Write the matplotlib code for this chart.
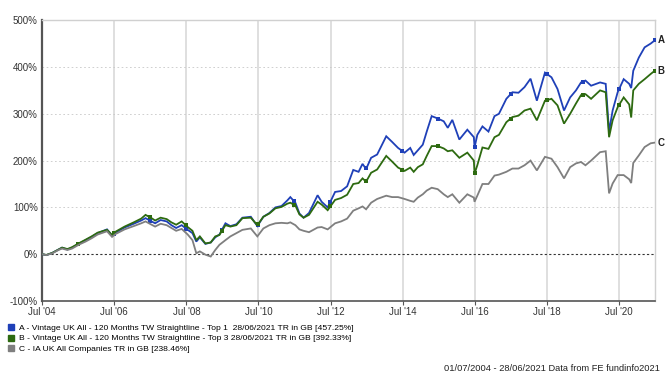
import numpy as np
import pandas as pd
import matplotlib
matplotlib.use('Agg')
import matplotlib.pyplot as plt
import matplotlib.dates as mdates
from matplotlib.lines import Line2D

plt.rcParams['font.family'] = ['Liberation Sans', 'DejaVu Sans']

# ---------------------------------------------------------------
# Cumulative total return (%)
# ---------------------------------------------------------------
dates = [
    '2004-07-01', '2004-08-15', '2004-10-15', '2004-12-15', '2005-01-20', '2005-03-15',
    '2005-05-01', '2005-07-15', '2005-09-15', '2005-11-15', '2006-01-15', '2006-04-20',
    '2006-06-10', '2006-07-15', '2006-10-15', '2007-01-15', '2007-04-01', '2007-05-15',
    '2007-07-15', '2007-08-20', '2007-10-15', '2007-12-15', '2008-02-01', '2008-03-20',
    '2008-05-15', '2008-07-15', '2008-09-01', '2008-10-10', '2008-11-15', '2009-01-10',
    '2009-03-05', '2009-04-20', '2009-06-01', '2009-08-01', '2009-09-20', '2009-11-20',
    '2010-01-20', '2010-04-15', '2010-06-20', '2010-08-20', '2010-10-20', '2010-12-20',
    '2011-02-20', '2011-04-20', '2011-05-20', '2011-07-10', '2011-08-20', '2011-10-01',
    '2011-11-25', '2012-02-20', '2012-04-01', '2012-06-01', '2012-08-15', '2012-10-15',
    '2012-12-15', '2013-02-15', '2013-04-10', '2013-05-20', '2013-06-25', '2013-08-15',
    '2013-10-15', '2014-01-15', '2014-03-15', '2014-05-15', '2014-07-20', '2014-09-15',
    '2014-10-20', '2014-12-01', '2015-01-20', '2015-03-01', '2015-04-20', '2015-06-20',
    '2015-08-20', '2015-09-30', '2015-11-15', '2016-01-25', '2016-04-15', '2016-06-20',
    '2016-06-27', '2016-07-25', '2016-09-15', '2016-11-15', '2017-01-15', '2017-03-01',
    '2017-05-15', '2017-07-15', '2017-09-15', '2017-11-15', '2018-01-15', '2018-03-20',
    '2018-06-10', '2018-08-15', '2018-10-15', '2018-12-20', '2019-02-20', '2019-04-20',
    '2019-06-10', '2019-07-25', '2019-09-20', '2019-12-20', '2020-02-15', '2020-03-20',
    '2020-04-25', '2020-06-15', '2020-08-15', '2020-10-10', '2020-10-30', '2020-11-20',
    '2021-01-15', '2021-03-15', '2021-05-15', '2021-06-28',
]

top1 = [
    0, -2, 3, 10, 14, 10, 14, 23, 30, 37, 45, 53,
    40, 46, 57, 65, 72, 77, 70, 66, 73, 70, 62, 56,
    62, 52, 45, 27, 36, 22, 25, 36, 42, 66, 60, 64,
    78, 80, 60, 80, 88, 100, 103, 115, 122, 110, 87, 78,
    88, 126, 112, 100, 133, 135, 145, 180, 176, 193, 182, 206,
    213, 252, 240, 227, 217, 227, 212, 222, 234, 262, 295, 290,
    284, 270, 287, 245, 266, 250, 228, 255, 273, 262, 295, 300,
    332, 346, 345, 357, 375, 328, 388, 378, 353, 307, 335, 350,
    367, 371, 360, 367, 364, 262, 307, 346, 374, 364, 355, 392,
    420, 442, 450, 457.25,
]

top3 = [
    0, -1.5, 3, 10, 14, 11, 15, 24, 31, 38, 46, 52,
    41, 48, 59, 68, 76, 84, 77, 72, 78, 75, 68, 63,
    70, 58, 50, 30, 38, 23, 25, 38, 41, 62, 59, 62,
    77, 78, 62, 80, 87, 98, 101, 108, 110, 104, 85, 78,
    84, 112, 106, 94, 116, 120, 127, 150, 152, 162, 155, 174,
    181, 210, 198, 185, 178, 185, 176, 186, 192, 210, 231, 231,
    226, 220, 222, 206, 217, 200, 172, 190, 228, 225, 250, 255,
    282, 293, 296, 307, 311, 286, 328, 332, 318, 279, 300, 322,
    340, 342, 332, 350, 346, 250, 286, 314, 335, 320, 292, 350,
    364, 374, 385, 392.33,
]

sector = [
    0, -2, 2, 9, 12, 9, 12, 21, 27, 34, 42, 49,
    37, 43, 53, 60, 66, 70, 63, 59, 65, 62, 56, 50,
    54, 42, 30, 2, 6, -1, -5, 9, 20, 30, 38, 45,
    52, 55, 38, 55, 62, 66, 67, 66, 68, 62, 53, 50,
    47, 57, 58, 53, 66, 70, 76, 93, 98, 102, 96, 110,
    118, 125, 122, 122, 118, 114, 112, 121, 128, 136, 142, 139,
    128, 122, 128, 110, 128, 121, 112, 125, 150, 150, 168, 170,
    176, 183, 183, 190, 200, 179, 208, 204, 186, 162, 186, 194,
    197, 190, 200, 218, 220, 130, 151, 169, 169, 160, 152, 195,
    211, 229, 237, 238.46,
]

labels = [
    'A - Vintage UK All - 120 Months TW Straightline - Top 1  28/06/2021 TR in GB [457.25%]',
    'B - Vintage UK All - 120 Months TW Straightline - Top 3 28/06/2021 TR in GB [392.33%]',
    'C - IA UK All Companies TR in GB [238.46%]',
]
letters = ['A', 'B', 'C']
colors = ['#1f40b8', '#2d6a10', '#7f7f7f']

x_ticks = ['2004-07-01', '2006-07-01', '2008-07-01', '2010-07-01', '2012-07-01',
           '2014-07-01', '2016-07-01', '2018-07-01', '2020-07-01']
x_tick_labels = ["Jul '04", "Jul '06", "Jul '08", "Jul '10", "Jul '12",
                 "Jul '14", "Jul '16", "Jul '18", "Jul '20"]
y_ticks = [-100, 0, 100, 200, 300, 400, 500]

# ---------------------------------------------------------------
dt = pd.to_datetime(dates)
dnum = mdates.date2num(dt)

fig = plt.figure(figsize=(6.67, 3.81), dpi=100)
ax = fig.add_axes([0.063, 0.21, 0.919, 0.737])

# grid
for t in pd.to_datetime(x_ticks):
    ax.axvline(t, color='#d9d9d9', lw=1.2, zorder=0)
for v in y_ticks[2:-1]:
    ax.axhline(v, color='#c8c8c8', lw=0.6, dashes=(2, 3), zorder=0)
ax.axhline(0, color='#333333', lw=0.8, dashes=(2, 2), zorder=1)

# yearly markers (end of June) for the two fund series
mark_dates = pd.to_datetime([f'{y}-06-28' for y in range(2005, 2022)])
mark_num = mdates.date2num(mark_dates)

series = [top1, top3, sector]
order = [2, 0, 1]  # draw grey first, green on top
for i in order:
    vals = np.array(series[i], dtype=float)
    ax.plot(dt, vals, color=colors[i], lw=1.3, zorder=3 + i, solid_joinstyle='miter')
    if i < 2:
        my = np.interp(mark_num, dnum, vals)
        ax.plot(mark_dates, my, 's', color=colors[i], ms=2.4, mew=0, zorder=3 + i)
    ax.annotate(letters[i], (dt[-1], vals[-1]), xytext=(2, 0), textcoords='offset points',
                ha='left', va='center', fontsize=7, fontweight='bold', color='#222222',
                annotation_clip=False)

ax.set_xlim(pd.Timestamp('2004-07-01'), pd.Timestamp('2021-06-28'))
ax.set_ylim(-100, 500)
ax.set_yticks(y_ticks)
ax.set_yticklabels([f'{v}%' for v in y_ticks], fontsize=7, color='#333333')
ax.set_xticks(pd.to_datetime(x_ticks))
ax.set_xticklabels(x_tick_labels, fontsize=7, color='#333333')
ax.tick_params(axis='y', length=0, pad=3)
ax.tick_params(axis='x', length=3, width=0.8, color='#555555', pad=1)

for s in ['top', 'right']:
    ax.spines[s].set_color('#d0d0d0')
    ax.spines[s].set_linewidth(1.0)
ax.spines['left'].set_color('#555555')
ax.spines['left'].set_linewidth(1.6)
ax.spines['bottom'].set_color('#555555')
ax.spines['bottom'].set_linewidth(1.2)

# legend
handles = [Line2D([], [], ls='none', marker='s', ms=5, color=c) for c in colors]
fig.legend(handles, labels, loc='upper left', bbox_to_anchor=(0.002, 0.165),
           frameon=False, fontsize=6.1, handlelength=0.8, handletextpad=0.6,
           labelspacing=0.3, borderpad=0.2)

fig.text(0.99, 0.02, '01/07/2004 - 28/06/2021 Data from FE fundinfo2021',
         ha='right', va='bottom', fontsize=6.7, color='#222222')

fig.savefig('out.png', dpi=100)
